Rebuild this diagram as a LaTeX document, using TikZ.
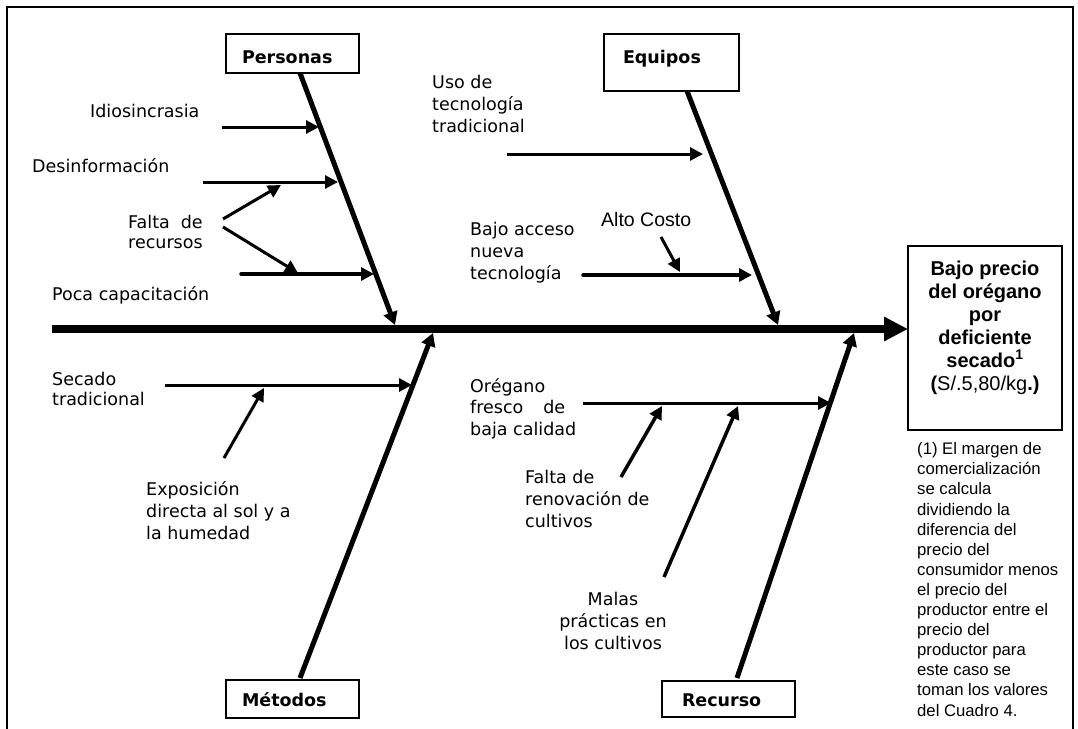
\documentclass[tikz,border=0pt]{standalone}
\usepackage{fontspec}
\usepackage{calc}
\setmainfont{DejaVu Sans}
\newfontfamily\arialf{Liberation Sans}
\usetikzlibrary{arrows.meta}
\begin{document}
\begin{tikzpicture}[x=1pt,y=-1pt,
  lbl/.style={font=\fontsize{17.5}{22}\selectfont, inner sep=0pt, align=left, anchor=base west},
  catbox/.style={draw, line width=2pt, anchor=north west, inner ysep=0pt, align=left, font=\bfseries\fontsize{17.5}{21}\selectfont},
  spine/.style={line width=8pt, -{Triangle[length=24pt,width=23pt]}},
  bone/.style={line width=5pt, -{Triangle[length=13pt,width=14pt]}},
  sub/.style={line width=3pt, -{Triangle[length=13pt,width=13pt]}},
  dsub/.style={line width=3.5pt, line cap=round, -{Triangle[length=13pt,width=13pt]}},
  frame/.style={line width=2pt}]
\useasboundingbox (0,0) rectangle (1078,728);
\draw[frame] (7,740) -- (7,7) -- (1073,7) -- (1073,740);

% category boxes
\node (personas) [catbox, inner xsep=16pt, text width=101pt, text height=29pt, text depth=10pt] at (225,33) {Personas};
\node (equipos) [catbox, inner xsep=19pt, text width=97pt, text height=29pt, text depth=28pt] at (603,33) {Equipos};
\node (metodos) [catbox, inner xsep=16pt, text width=101pt, text height=26pt, text depth=12pt] at (225,679) {Métodos};
\node (recurso) [catbox, inner xsep=20pt, text width=93pt, text height=25pt, text depth=11pt] at (661,680) {Recurso};

% effect box
\node (effect) [draw, line width=2pt, minimum width=154pt, minimum height=184pt, inner sep=0pt, align=center,
  font=\arialf\bfseries\fontsize{20}{23}\selectfont] at (985,338)
  {Bajo precio\\del orégano\\por\\deficiente\\secado\textsuperscript{1}\\(\mdseries S/.5,80/kg\bfseries.)\rule[-25pt]{0pt}{1pt}};

% labels (anchor = baseline of the last line)
\node (idio) [lbl] at (90,117) {Idiosincrasia};
\node (desinf) [lbl] at (32,172) {Desinformación};
\node (falta) [lbl, font=\fontsize{17.5}{20}\selectfont] at (128,248) {\makebox[\widthof{recursos}][s]{Falta de}\\recursos};
\node (poca) [lbl] at (52,300) {Poca capacitación};
\node (uso) [lbl] at (432,132) {Uso de\\tecnología\\tradicional};
\node (bajo) [lbl] at (470,279) {Bajo acceso\\nueva\\tecnología};
\node (alto) [lbl, font=\arialf\fontsize{19.5}{22}\selectfont] at (601,226) {Alto Costo};
\node (secado) [lbl, font=\fontsize{17.5}{20}\selectfont] at (52,405) {Secado\\tradicional};
\node (expo) [lbl] at (146,539) {Exposición\\directa al sol y a\\la humedad};
\node (oreg) [lbl, font=\fontsize{17.5}{21.5}\selectfont] at (470,435) {Orégano\\fresco\hspace{20pt}de\\baja calidad};
\node (falren) [lbl] at (525,527) {Falta de\\renovación de\\cultivos};
\node (malas) [lbl, align=center, anchor=base] at (613,649) {Malas\\prácticas en\\los cultivos};
\node (nota) [lbl, font=\arialf\fontsize{16.7}{20.1}\selectfont] at (917,716)
  {(1) El margen de\\comercialización\\se calcula\\dividiendo la\\diferencia del\\precio del\\consumidor menos\\el precio del\\productor entre el\\precio del\\productor para\\este caso se\\toman los valores\\del Cuadro 4.};

% coordinates
\coordinate (s1) at (52,329);
\coordinate (s2) at (908,329);
\coordinate (p1) at (300,73);  \coordinate (p2) at (395,325);
\coordinate (e1) at (687,91);  \coordinate (e2) at (778,325);
\coordinate (m1) at (300,678); \coordinate (m2) at (433,333);
\coordinate (r1) at (737,678); \coordinate (r2) at (854,333);

\coordinate (a1s) at (222,127); \coordinate (a1e) at (319,127);
\coordinate (a2s) at (203,182); \coordinate (a2e) at (338,182);
\coordinate (a3s) at (223,219); \coordinate (a3e) at (281,185);
\coordinate (a4s) at (223,227); \coordinate (a4e) at (298,273);
\coordinate (a5s) at (241,274); \coordinate (a5e) at (374,274);
\coordinate (a6s) at (507,154); \coordinate (a6e) at (703,154);
\coordinate (a7s) at (583,275); \coordinate (a7e) at (752,275);
\coordinate (a8s) at (661,237); \coordinate (a8e) at (680,272);
\coordinate (a9s) at (165,385); \coordinate (a9e) at (412,385);
\coordinate (a10s) at (224,458); \coordinate (a10e) at (264,388);
\coordinate (a11s) at (583,403); \coordinate (a11e) at (831,403);
\coordinate (a12s) at (621,477); \coordinate (a12e) at (662,406);
\coordinate (a13s) at (664,577); \coordinate (a13e) at (738,406);

% spine and bones
\draw[spine] (s1) -- (s2);
\draw[bone] (p1) -- (p2);
\draw[bone] (e1) -- (e2);
\draw[bone] (m1) -- (m2);
\draw[bone] (r1) -- (r2);

% sub-causes
\draw[sub] (a1s) -- (a1e);
\draw[sub] (a2s) -- (a2e);
\draw[sub] (a3s) -- (a3e);
\draw[sub] (a4s) -- (a4e);
\draw[dsub] (a5s) -- (a5e);
\draw[sub] (a6s) -- (a6e);
\draw[dsub] (a7s) -- (a7e);
\draw[sub] (a8s) -- (a8e);
\draw[sub] (a9s) -- (a9e);
\draw[sub] (a10s) -- (a10e);
\draw[sub] (a11s) -- (a11e);
\draw[sub, line width=3.5pt] (a12s) -- (a12e);
\draw[sub, line width=3.5pt] (a13s) -- (a13e);
\end{tikzpicture}
\end{document}
